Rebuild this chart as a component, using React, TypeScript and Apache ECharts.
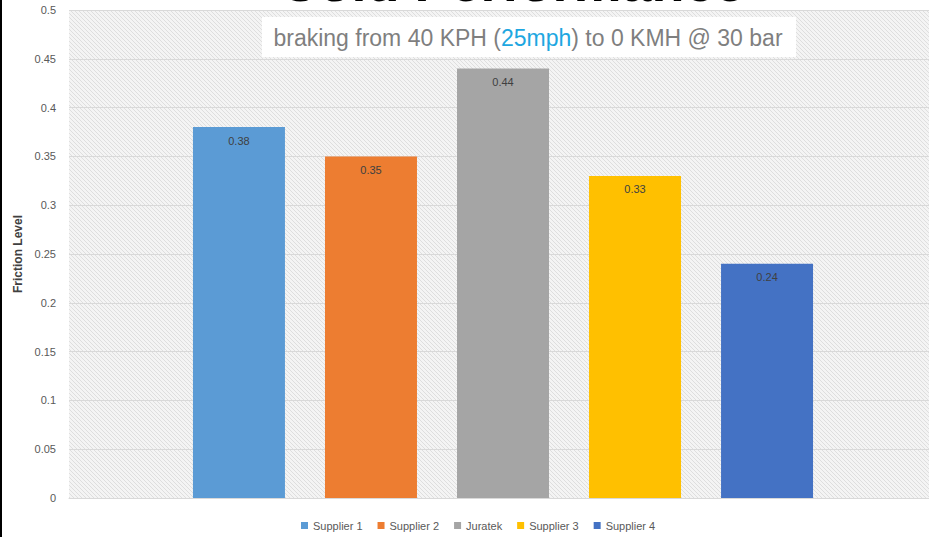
import React, { useEffect, useRef } from "react";
import * as echarts from "echarts";

const categories = [""];
const seriesNames = ["Supplier 1", "Supplier 2", "Juratek", "Supplier 3", "Supplier 4"];
const seriesValues = [0.38, 0.35, 0.44, 0.33, 0.24];
const seriesColors = ["#5b9bd5", "#ed7d31", "#a5a5a5", "#ffc000", "#4472c4"];
const yTicks = { min: 0, max: 0.5, interval: 0.05 };

function makeHatch(): string | null {
  try {
    const c = document.createElement("canvas");
    c.width = 4;
    c.height = 4;
    const ctx = c.getContext("2d");
    if (!ctx) return null;
    ctx.fillStyle = "#f4f4f4";
    ctx.fillRect(0, 0, 4, 4);
    ctx.strokeStyle = "#dedede";
    ctx.lineWidth = 1;
    ctx.beginPath();
    ctx.moveTo(-1, -1);
    ctx.lineTo(5, 5);
    ctx.moveTo(-1, 3);
    ctx.lineTo(1, 5);
    ctx.moveTo(3, -1);
    ctx.lineTo(5, 1);
    ctx.stroke();
    return c.toDataURL();
  } catch (e) {
    return null;
  }
}

export default function App() {
  const ref = useRef<HTMLDivElement>(null);
  useEffect(() => {
    if (!ref.current) return;
    const chart = echarts.init(ref.current, null, { renderer: "svg" });
    const hatch = makeHatch();
    const bg: any = hatch ? { image: hatch, repeat: "repeat" } : "#efefef";
    chart.setOption({
      animation: false,
      backgroundColor: "#ffffff",
      grid: {
        left: 69,
        top: 10,
        right: 0,
        bottom: 39,
        show: true,
        backgroundColor: bg,
        borderWidth: 0,
      },
      legend: {
        left: 296,
        top: 515,
        icon: "rect",
        itemWidth: 7,
        itemHeight: 7,
        itemGap: 15,
        textStyle: { fontSize: 11, color: "#595959", fontFamily: "Liberation Sans" },
        data: seriesNames,
      },
      xAxis: {
        type: "category",
        data: categories,
        axisLine: { show: true, lineStyle: { color: "#d9d9d9" } },
        axisTick: { show: false },
        axisLabel: { show: false },
      },
      yAxis: {
        type: "value",
        min: yTicks.min,
        max: yTicks.max,
        interval: yTicks.interval,
        name: "Friction Level",
        nameLocation: "middle",
        nameGap: 45,
        nameRotate: 90,
        nameTextStyle: { fontSize: 12, fontWeight: "bold", color: "#404040", fontFamily: "Liberation Sans" },
        axisLine: { show: false },
        axisTick: { show: false },
        axisLabel: { fontSize: 11, color: "#595959", margin: 13, fontFamily: "Liberation Sans" },
        splitLine: { show: true, lineStyle: { color: "#d9d9d9", width: 1 } },
      },
      series: seriesNames.map((name, i) => ({
        name,
        type: "bar",
        barWidth: 92,
        barGap: "43.5%",
        data: [seriesValues[i]],
        itemStyle: { color: seriesColors[i] },
        label: {
          show: true,
          position: "insideTop",
          distance: 8,
          fontSize: 11,
          color: "#404040",
          fontFamily: "Liberation Sans",
        },
      })),
      graphic: [
        {
          type: "text",
          x: 512,
          y: 9,
          style: {
            text: "Cold Performance",
            fontSize: 54,
            fontWeight: "bold",
            fontFamily: "Liberation Sans",
            fill: "#000000",
            textAlign: "center",
            textVerticalAlign: "bottom",
          },
        },
        {
          type: "rect",
          shape: { x: 262, y: 17, width: 534, height: 40 },
          style: { fill: "#ffffff" },
        },
        {
          type: "text",
          x: 528,
          y: 38,
          style: {
            text: "{g|braking from 40 KPH (}{b|25mph}{g|) to 0 KMH @ 30 bar}",
            textAlign: "center",
            textVerticalAlign: "middle",
            rich: {
              g: { fontSize: 23, fill: "#7f7f7f", color: "#7f7f7f", fontFamily: "Liberation Sans" },
              b: { fontSize: 23, fill: "#1ea7e1", color: "#1ea7e1", fontFamily: "Liberation Sans" },
            },
          },
        },
        {
          type: "rect",
          shape: { x: 0, y: 0, width: 2, height: 537 },
          style: { fill: "#000000" },
        },
      ],
    });
    return () => chart.dispose();
  }, []);
  return (
    <div
      style={{ position: "absolute", left: 0, top: 0, width: 929, height: 537, overflow: "hidden" }}
    >
      <div ref={ref} style={{ width: 937, height: 537 }} />
    </div>
  );
}
